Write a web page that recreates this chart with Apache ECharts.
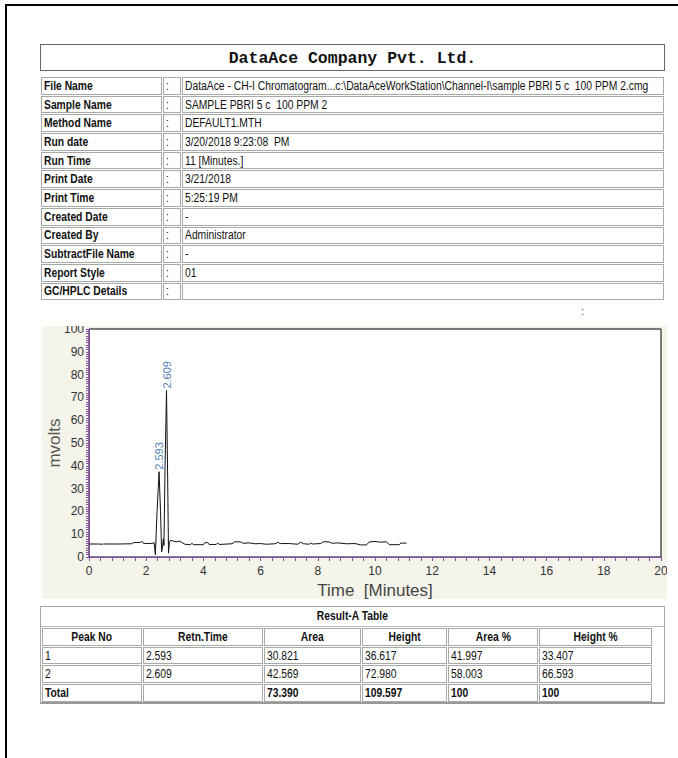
<!DOCTYPE html>
<html>
<head>
<meta charset="utf-8">
<script src="https://cdn.jsdelivr.net/npm/echarts@6/dist/echarts.min.js"></script>
<style>
  html, body { margin:0; padding:0; width:678px; height:758px; background:#fff; overflow:hidden; }
  .frame { position:absolute; left:5px; top:4px; width:700px; height:800px; border-top:2px solid #000; border-left:2px solid #000; }
  .title { position:absolute; left:40px; top:44px; width:625px; height:27px; box-sizing:border-box; border:1px solid #666;
           text-align:center; line-height:27px; font-family:"Liberation Mono","DejaVu Sans Mono",monospace; font-weight:bold; font-size:16.5px; color:#111; }
  table { font-family:"Liberation Sans",Arial,sans-serif; font-size:12px; color:#111; }
  .s { display:inline-block; transform:scaleX(0.86); transform-origin:0 50%; white-space:pre; }
  .c .s { transform-origin:50% 50%; }
  #info { position:absolute; left:40px; top:76px; width:625px; border-collapse:separate; border-spacing:1px; table-layout:fixed; }
  #info td { border:1px solid #a9a9a9; height:15.7px; padding:0 2px; white-space:pre; overflow:hidden; line-height:14px; }
  #info td.lab { font-weight:bold; }
  .colon2 { position:absolute; left:581px; top:305px; font-family:"Liberation Sans",sans-serif; font-size:11px; color:#444; }
  #chart { position:absolute; left:42px; top:326px; width:625px; height:273px; overflow:hidden; }
  .res { position:absolute; left:40px; top:606px; width:625px; height:98px; box-sizing:border-box; border:1px solid #a9a9a9; border-bottom:2px solid #999; }
  .res .cap { height:19px; line-height:19px; text-align:center; font-weight:bold; border-bottom:1px solid #bbb;
              font-family:"Liberation Sans",Arial,sans-serif; font-size:12px; color:#111; }
  #result { border-collapse:separate; border-spacing:1px; table-layout:fixed; width:612px; }
  #result td { border:1px solid #a9a9a9; height:15.7px; padding:0 2px; line-height:14px; white-space:pre; overflow:hidden; }
  #result tr.hd td { font-weight:bold; text-align:center; }
  #result tr.tot td { font-weight:bold; }
</style>
</head>
<body>
<div class="frame"></div>
<div class="title">DataAce Company Pvt. Ltd.</div>
<table id="info"><colgroup><col style="width:121px"><col style="width:18px"><col></colgroup><tbody></tbody></table>
<div class="colon2">:</div>
<div id="chart"></div>
<div class="res"><div class="cap c"><span class="s">Result-A Table</span></div>
<table id="result"><colgroup><col style="width:97px"><col style="width:117px"><col style="width:94px"><col style="width:83px"><col style="width:87px"><col style="width:110px"></colgroup><tbody></tbody></table>
</div>
<script>
// ---------- header info ----------
const infoLabels = ['File Name','Sample Name','Method Name','Run date','Run Time','Print Date','Print Time','Created Date','Created By','SubtractFile Name','Report Style','GC/HPLC Details'];
const infoValues = ['DataAce - CH-I Chromatogram...c:\\DataAceWorkStation\\Channel-I\\sample PBRI 5 c  100 PPM 2.cmg',
  'SAMPLE PBRI 5 c  100 PPM 2','DEFAULT1.MTH','3/20/2018 9:23:08  PM','11 [Minutes.]','3/21/2018','5:25:19 PM','-','Administrator','-','01',''];

// ---------- chromatogram trace (time in minutes, signal in mV) ----------
const timeMin = [0.00,0.30,0.50,0.52,0.55,1.00,1.50,1.55,1.80,1.85,1.90,2.10,2.20,2.28,2.32,2.38,2.45,2.50,2.54,2.58,2.60,2.62,2.66,2.71,2.75,2.78,2.81,2.85,2.95,3.05,3.15,3.25,3.35,3.55,3.60,3.65,4.00,4.05,4.15,4.20,4.45,4.50,4.55,5.00,5.10,5.30,5.40,5.60,5.80,6.00,6.20,6.50,6.60,6.70,7.00,7.30,7.40,7.50,7.70,7.75,7.80,8.10,8.20,8.40,8.50,8.70,9.00,9.30,9.50,9.70,9.80,10.00,10.20,10.40,10.50,10.85,10.90,11.10];
const signalMv = [5.7,5.7,5.6,5.9,5.7,5.7,5.8,6.3,6.4,6.9,6.0,5.9,6.0,6.2,1.0,20.0,37.4,20.0,2.3,5.5,8.0,5.0,40.0,73.0,35.0,1.7,6.5,7.3,7.0,6.6,7.0,6.4,5.6,5.4,6.0,5.4,5.4,6.3,6.3,5.5,5.5,6.2,5.5,5.8,6.7,6.6,6.0,6.2,5.8,5.9,5.6,5.8,6.4,5.9,5.9,5.6,6.5,5.8,5.6,6.2,5.7,5.9,6.7,6.6,6.0,6.2,5.8,5.9,5.3,5.3,6.6,6.8,6.5,6.7,5.4,5.4,6.1,6.1];

// ---------- peaks (apex as drawn, labelled with retention time) ----------
const peakApexTime = [2.45, 2.71];
const peakApexMv = [37.4, 73.0];

// ---------- result table ----------
const resultHeaders = ['Peak No','Retn.Time','Area','Height','Area %','Height %'];
const peakNo = ['1','2'];
const retnTime = ['2.593','2.609'];
const area = ['30.821','42.569'];
const height = ['36.617','72.980'];
const areaPct = ['41.997','58.003'];
const heightPct = ['33.407','66.593'];
const totalRow = ['Total','','73.390','109.597','100','100'];

// axis settings
const xMin = 0, xMax = 20, xStep = 2;
const yMin = 0, yMax = 100, yStep = 10;

function cell(text, cls) {
  const td = document.createElement('td'); if (cls) td.className = cls;
  const sp = document.createElement('span'); sp.className = 's'; sp.textContent = text;
  td.appendChild(sp); return td;
}
// build info table
const ib = document.querySelector('#info tbody');
infoLabels.forEach((l, i) => {
  const tr = document.createElement('tr');
  tr.appendChild(cell(l, 'lab')); tr.appendChild(cell(':')); tr.appendChild(cell(infoValues[i]));
  ib.appendChild(tr);
});

// build result table
const rb = document.querySelector('#result tbody');
function addRow(cells, cls) {
  const tr = document.createElement('tr'); if (cls) tr.className = cls;
  cells.forEach(t => tr.appendChild(cell(t, cls === 'hd' ? 'c' : '')));
  rb.appendChild(tr);
}
addRow(resultHeaders, 'hd');
peakNo.forEach((p, i) => addRow([p, retnTime[i], area[i], height[i], areaPct[i], heightPct[i]]));
addRow(totalRow, 'tot');

// chart
const chart = echarts.init(document.getElementById('chart'), null, { renderer: 'svg' });
const purple = '#8a4fa8';
chart.setOption({
  animation: false,
  backgroundColor: '#f4f4eb',
  grid: { left: 47, right: 6, top: 3, bottom: 42, outerBoundsMode: 'none', containLabel: false,
          show: true, backgroundColor: '#fff', borderColor: '#000', borderWidth: 1 },
  xAxis: {
    type: 'value', min: xMin, max: xMax, interval: xStep,
    name: 'Time  [Minutes]', nameLocation: 'middle', nameGap: 21,
    nameTextStyle: { fontSize: 17, color: '#444', fontFamily: 'Liberation Sans, Arial, sans-serif' },
    axisLine: { lineStyle: { color: purple, width: 1 } },
    axisTick: { show: true, length: 4, lineStyle: { color: purple } },
    minorTick: { show: true, splitNumber: 5, length: 4, lineStyle: { color: purple } },
    axisLabel: { margin: 8, fontSize: 12, color: '#333', fontFamily: 'Liberation Sans, Arial, sans-serif' },
    splitLine: { show: false }
  },
  yAxis: {
    type: 'value', min: yMin, max: yMax, interval: yStep,
    name: 'mvolts', nameLocation: 'middle', nameGap: 26, nameRotate: 90, nameMoveOverlap: false,
    nameTextStyle: { fontSize: 17, color: '#555', fontFamily: 'Liberation Sans, Arial, sans-serif' },
    axisLine: { lineStyle: { color: purple, width: 1 } },
    axisTick: { show: true, length: 3, lineStyle: { color: purple } },
    minorTick: { show: true, splitNumber: 10, length: 3, lineStyle: { color: purple } },
    axisLabel: { margin: 5, fontSize: 12, color: '#333', fontFamily: 'Liberation Sans, Arial, sans-serif' },
    splitLine: { show: false }
  },
  series: [
    {
      type: 'line', data: timeMin.map((t, i) => [t, signalMv[i]]),
      showSymbol: false, symbol: 'none', lineStyle: { color: '#111', width: 1 }, silent: true
    },
    {
      type: 'scatter', symbolSize: 0, silent: true,
      data: peakApexTime.map((t, i) => ({ value: [t, peakApexMv[i]], label: { formatter: retnTime[i] } })),
      label: { show: true, position: 'top', distance: 2, rotate: 90, align: 'left', verticalAlign: 'middle',
               fontSize: 11, color: '#1e5aa0', fontFamily: 'Liberation Sans, Arial, sans-serif' }
    }
  ]
});
</script>
</body>
</html>
